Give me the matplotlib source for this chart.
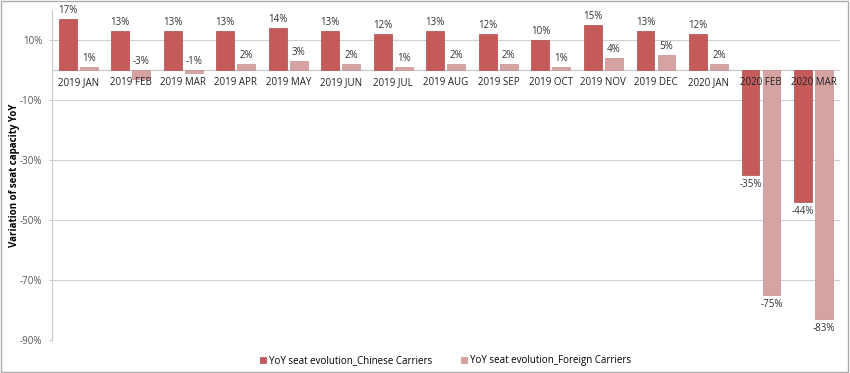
import numpy as np
import matplotlib.pyplot as plt
from matplotlib.patches import Rectangle

months = ['2019 JAN', '2019 FEB', '2019 MAR', '2019 APR', '2019 MAY', '2019 JUN',
          '2019 JUL', '2019 AUG', '2019 SEP', '2019 OCT', '2019 NOV', '2019 DEC',
          '2020 JAN', '2020 FEB', '2020 MAR']
chinese = [17, 13, 13, 13, 14, 13, 12, 13, 12, 10, 15, 13, 12, -35, -44]
foreign = [1, -3, -1, 2, 3, 2, 1, 2, 2, 1, 4, 5, 2, -75, -83]
y_ticks = [10, -10, -30, -50, -70, -90]

plt.rcParams['font.family'] = ['Open Sans', 'DejaVu Sans']

fig = plt.figure(figsize=(8.5, 3.73), dpi=100)
ax = fig.add_axes([0.061, 0.0885, 0.927, 0.8847])

x = np.arange(len(months))
w = 0.34
c_red = '#c55a5a'
c_pink = '#d6a3a3'
ax.bar(x - 0.2, chinese, w, color=c_red, edgecolor='#b04a4a', linewidth=0.5,
       label='YoY seat evolution_Chinese Carriers', zorder=3)
ax.bar(x + 0.2, foreign, w, color=c_pink, edgecolor='#c49090', linewidth=0.5,
       label='YoY seat evolution_Foreign Carriers', zorder=3)


def put_label(xp, v):
    if v > -5:
        ax.text(xp, max(v, 0) + 1.0, f'{v}%', ha='center', va='bottom', fontsize=7, color='#333333')
    else:
        ax.text(xp, v - 1.3, f'{v}%', ha='center', va='top', fontsize=7, color='#333333')


for xi, v in zip(x, chinese):
    put_label(xi - 0.2, v)
for xi, v in zip(x, foreign):
    put_label(xi + 0.2, v)

for xi, m in zip(x, months):
    ax.text(xi, -2.3, m, ha='center', va='top', fontsize=7, color='#222222', zorder=4)

ax.set_xlim(-0.5, len(months) - 0.5)
ax.set_ylim(-90, 20)
ax.set_yticks(y_ticks)
ax.set_yticklabels([f'{t}%' for t in y_ticks], fontsize=7, color='#555555')
ax.set_xticks([])
ax.grid(axis='y', color='#d0d0d0', linewidth=0.8, zorder=0)
ax.axhline(0, color='#c8c8c8', linewidth=0.8, zorder=1)
for s in ['top', 'right', 'bottom']:
    ax.spines[s].set_visible(False)
ax.spines['left'].set_color('#c8c8c8')
ax.tick_params(axis='y', length=2, color='#c8c8c8', pad=5)
ax.set_ylabel('Variation of seat capacity YoY', fontsize=7, fontweight='bold')
ax.yaxis.set_label_coords(-0.041, 0.5)

ax.legend(loc='upper center', bbox_to_anchor=(0.5, -0.02), ncol=2, frameon=False,
          fontsize=7, handlelength=0.6, handleheight=0.6, columnspacing=3, handletextpad=0.3)

fig.patches.append(Rectangle((0.001, 0.002), 0.997, 0.995, transform=fig.transFigure,
                             fill=False, edgecolor='#aaaaaa', linewidth=1))

fig.savefig('out.png', dpi=100)
